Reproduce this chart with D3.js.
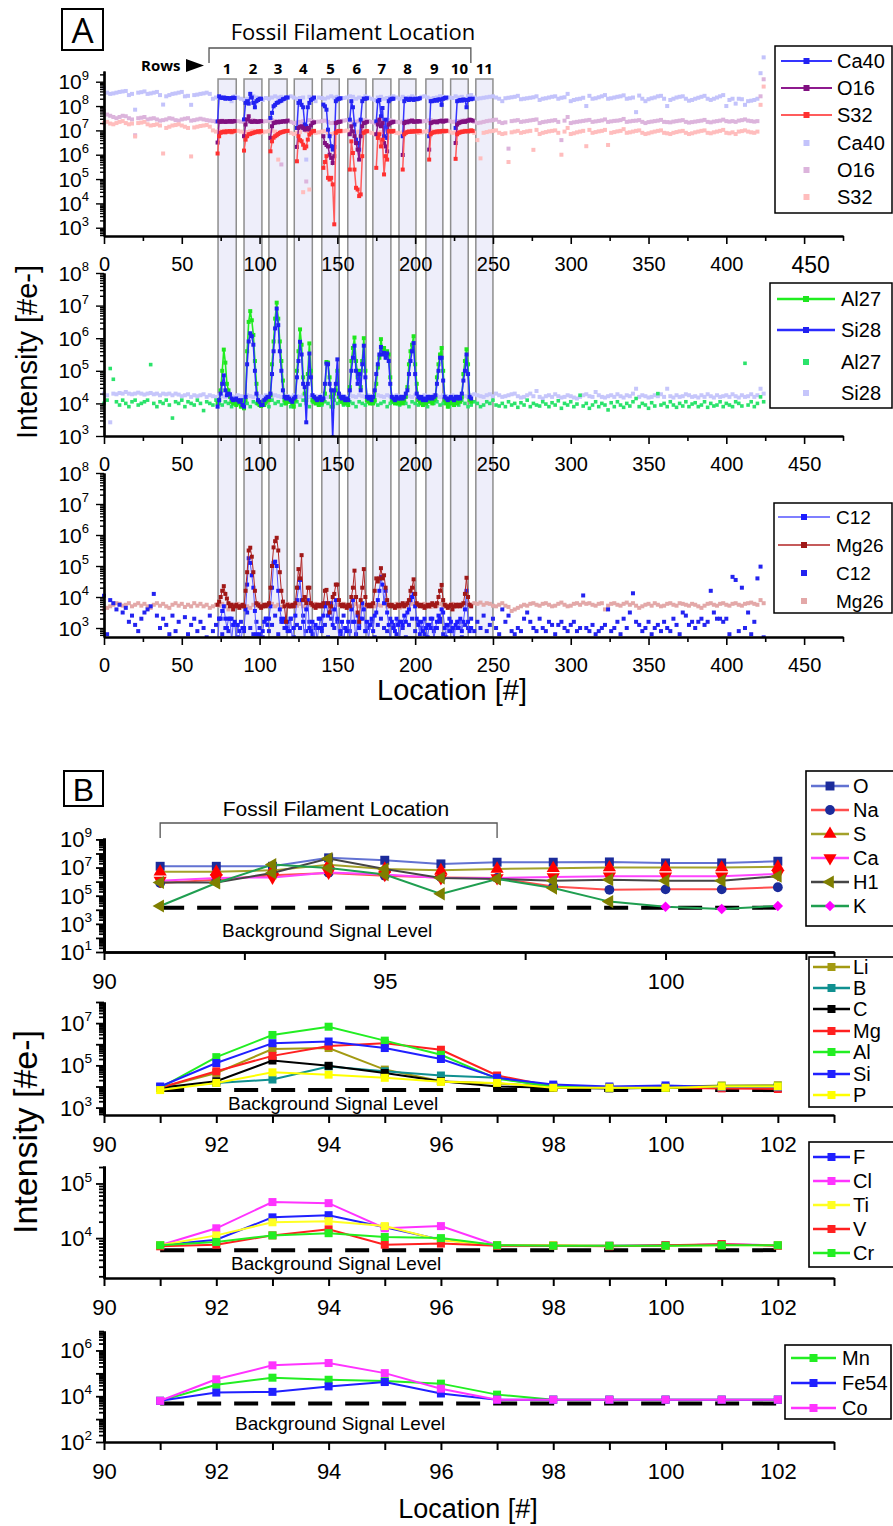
<!DOCTYPE html>
<html>
<head>
<meta charset="utf-8">
<script src="https://cdn.jsdelivr.net/npm/d3@7/dist/d3.min.js"></script>
<style>
body { margin: 0; background: #fff; }
</style>
</head>
<body>
<script>
// ---------- Panel A (all values are log10 of intensity) ----------
var rowLabels = ["1", "2", "3", "4", "5", "6", "7", "8", "9", "10", "11"]
var rowBands = [[73.3, 85], [90, 101.5], [106, 117.7], [122.3, 133.9], [140, 151.2], [156.7, 168.4],
  [172.8, 184.4], [189.6, 200.5], [206.9, 217.8], [222.8, 234.1], [239, 250]]
var rowStart = [73, 90, 107, 124, 141, 158, 175, 192, 209, 226]

var ca40Rows = [
  [7.37, 8.4, 8.35, 8.33, 8.35, 8.3, 8.33, 8.32, 8.3, 8.33, 8.35, 8.33],
  [7.45, 8.13, 8.2, 8.1, 8.5, 8.35, 8.13, 7.95, 8.2, 8.25, 8.3, 8.3],
  [7.51, 7.72, 7.99, 8.05, 8.13, 8.15, 8.2, 8.22, 8.28, 8.3, 8.35, 8.35],
  [7.1, 8.13, 8.2, 8.05, 7.95, 7.24, 7.17, 7.95, 8.13, 8.25, 8.3, 8.35],
  [8.06, 7.99, 7.85, 7.03, 6.76, 6.35, 6.21, 6.32, 8.2, 8.27, 8.3, 8.32],
  [7.44, 8.2, 7.95, 7.24, 6.62, 6.48, 6.21, 7.44, 8.2, 8.3, 8.3, 8.32],
  [7.37, 8.2, 8.25, 7.58, 7.92, 6.76, 7.44, 6.69, 8.2, 8.27, 8.3, 8.3],
  [6.76, 8.2, 8.3, 8.28, 8.25, 8.3, 8.28, 8.25, 8.3, 8.28, 8.3, 8.32],
  [6.76, 8.2, 8.2, 8.22, 8.25, 8.22, 8.27, 8.27, 8.05, 8.3, 8.33, 8.35],
  [7.1, 8.2, 8.22, 8.25, 8.22, 8.27, 8.25, 7.95, 8.25, 8.3, 8.28, 8.3]
]
var o16Rows = [
  [6.5, 7.37, 7.35, 7.38, 7.36, 7.35, 7.37, 7.36, 7.38, 7.36, 7.37, 7.38],
  [6.76, 7.24, 7.45, 7.58, 7.37, 7.35, 7.36, 7.38, 7.35, 7.36, 7.37, 7.38],
  [6.69, 7.17, 7.3, 7.32, 7.35, 7.33, 7.36, 7.35, 7.37, 7.38, 7.36, 7.4],
  [6.32, 7.1, 7.15, 7.17, 7.1, 7.03, 7.05, 7.1, 7.03, 7.2, 7.3, 7.33],
  [6.76, 6.48, 6.4, 6.34, 6.0, 5.87, 5.66, 5.94, 7.3, 7.33, 7.35, 7.36],
  [6.84, 7.17, 6.96, 6.76, 6.48, 6.21, 5.8, 6.76, 7.17, 7.3, 7.32, 7.35],
  [6.84, 7.24, 7.44, 7.17, 7.3, 6.48, 6.34, 6.14, 7.24, 7.3, 7.33, 7.35],
  [5.99, 7.3, 7.35, 7.33, 7.36, 7.38, 7.4, 7.35, 7.37, 7.36, 7.38, 7.37],
  [6.21, 7.3, 7.33, 7.35, 7.36, 7.33, 7.37, 7.38, 7.4, 7.36, 7.38, 7.4],
  [6.48, 7.24, 7.3, 7.33, 7.35, 7.37, 7.35, 7.38, 7.4, 7.44, 7.42, 7.4]
]
var s32Rows = [
  [6.05, 6.76, 6.9, 6.93, 6.95, 6.92, 6.96, 6.95, 6.97, 6.94, 6.96, 6.98],
  [6.17, 6.62, 6.76, 6.84, 6.85, 6.88, 6.9, 6.92, 6.94, 6.96, 6.95, 6.97],
  [6.14, 6.55, 6.7, 6.76, 6.8, 6.85, 6.9, 6.92, 6.94, 6.96, 6.97, 6.98],
  [5.73, 6.76, 6.6, 6.55, 6.41, 6.27, 6.34, 6.62, 6.83, 6.9, 6.96, 6.98],
  [5.46, 5.7, 5.94, 5.05, 4.98, 5.05, 4.78, 3.14, 6.9, 6.96, 6.97, 6.98],
  [5.39, 6.55, 6.07, 5.39, 4.64, 4.57, 4.3, 4.37, 5.94, 6.9, 6.95, 6.97],
  [5.46, 6.69, 6.84, 6.34, 6.62, 5.19, 5.94, 5.8, 6.96, 6.97, 6.95, 6.98],
  [5.39, 6.84, 6.9, 6.93, 6.95, 6.94, 6.96, 6.95, 6.97, 6.96, 6.98, 6.97],
  [5.8, 6.84, 6.9, 6.92, 6.94, 6.95, 6.96, 6.95, 6.97, 6.98, 6.96, 6.98],
  [5.83, 6.84, 6.9, 6.92, 6.94, 6.95, 6.96, 6.97, 6.96, 6.98, 7.0, 6.98]
]

// background scans, every 2nd location 0..424
var fadeLoc = d3.range(0, 425, 2)
var ca40Fade = [
  8.75, 8.55, 8.5, 8.52, 8.55, 8.58, 8.6, 8.62, 8.45, 8.5,
  7.85, 8.55, 8.57, 8.6, 8.5, 8.52, 8.55, 8.58, 8.45, 8.06,
  8.4, 8.45, 8.5, 8.52, 8.55, 8.58, 8.4, 8.42, 8.05, 8.45,
  8.47, 8.5, 8.52, 8.55, 8.5, 8.3, 8.35, 8.35, 8.33, 8.35,
  8.3, 8.2, 8.4, 8.35, 8.3, 8.25, 8.3, 8.38, 8.4, 8.35,
  8.3, 8.25, 8.33, 8.3, 8.35, 8.4, 8.35, 8.38, 8.3, 8.35,
  8.4, 8.35, 8.3, 8.33, 8.35, 5.8, 8.38, 8.3, 8.2, 8.35,
  8.33, 8.3, 8.35, 8.4, 8.35, 8.38, 8.3, 8.33, 8.35, 8.4,
  8.38, 8.3, 8.35, 8.33, 8.4, 8.35, 8.3, 8.25, 8.35, 8.38,
  8.3, 8.33, 8.35, 8.4, 8.35, 8.3, 8.38, 8.33, 8.35, 8.4,
  8.35, 8.3, 8.38, 8.4, 8.35, 8.3, 8.33, 8.35, 8.4, 8.38,
  8.3, 8.35, 8.33, 8.4, 8.35, 8.38, 8.3, 8.4, 8.45, 8.35,
  8.3, 8.32, 8.34, 8.36, 8.38, 8.4, 8.35, 8.3, 8.2, 8.32,
  8.34, 8.36, 8.38, 8.42, 8.28, 8.3, 8.32, 8.34, 8.36, 8.4,
  8.25, 8.3, 8.32, 8.35, 8.38, 8.4, 8.3, 8.34, 8.36, 8.5,
  8.2, 8.25, 8.28, 8.3, 8.34, 8.0, 8.42, 8.3, 8.32, 8.36,
  8.4, 8.45, 8.3, 8.32, 8.35, 8.38, 8.4, 8.44, 8.3, 8.32,
  8.35, 7.75, 8.43, 8.3, 8.2, 8.28, 8.32, 8.35, 8.4, 8.42,
  8.3, 8.0, 8.25, 8.3, 8.35, 8.38, 8.4, 8.3, 8.22, 8.25,
  8.3, 8.34, 8.38, 8.42, 8.3, 8.25, 8.3, 8.35, 8.4, 8.45,
  8.0, 8.25, 8.3, 8.1, 8.3, 8.28, 8.05, 8.2, 8.22, 8.25,
  8.3, 9.35, 10.0
]
var o16Fade = [
  7.8, 7.65, 7.6, 7.55, 7.5, 7.55, 7.6, 7.58, 7.5, 7.45,
  6.8, 7.5, 7.52, 7.55, 7.45, 7.48, 7.5, 7.45, 7.4, 7.42,
  7.45, 7.5, 7.48, 7.42, 7.4, 7.45, 7.48, 7.5, 7.4, 7.42,
  7.45, 7.48, 7.45, 7.42, 7.4, 7.38, 7.36, 7.38, 7.4, 7.37,
  7.38, 7.35, 7.4, 7.38, 7.36, 7.35, 7.38, 7.4, 7.42, 7.38,
  7.35, 7.36, 7.38, 7.4, 7.42, 7.38, 7.35, 5.6, 7.38, 7.4,
  7.35, 7.3, 7.32, 7.35, 7.38, 4.9, 7.42, 7.38, 7.35, 7.36,
  7.38, 7.4, 7.35, 7.3, 7.32, 7.35, 7.38, 7.4, 7.42, 7.38,
  7.35, 7.36, 7.38, 7.4, 7.42, 7.38, 7.35, 7.3, 7.33, 7.36,
  7.38, 7.4, 7.42, 7.38, 7.35, 7.33, 7.36, 7.38, 7.4, 7.42,
  7.38, 7.35, 7.36, 7.38, 7.4, 7.42, 7.38, 7.35, 7.36, 7.4,
  7.42, 7.38, 7.35, 7.36, 7.38, 7.4, 7.42, 7.4, 7.38, 7.35,
  7.3, 7.32, 7.35, 7.38, 7.4, 7.42, 7.44, 7.35, 7.3, 7.33,
  6.25, 7.38, 7.4, 7.42, 7.35, 7.37, 7.39, 7.41, 7.43, 7.45,
  7.3, 7.34, 7.36, 7.38, 7.4, 7.42, 7.35, 6.6, 7.4, 7.55,
  7.3, 7.33, 7.35, 7.37, 7.39, 7.41, 7.43, 7.35, 7.37, 7.39,
  7.41, 7.45, 7.35, 7.37, 7.39, 7.4, 7.42, 7.47, 7.35, 7.37,
  7.39, 7.4, 7.42, 7.35, 7.3, 7.34, 7.36, 7.38, 7.4, 7.43,
  7.35, 7.34, 7.33, 7.36, 7.38, 7.4, 7.42, 7.35, 7.32, 7.34,
  7.36, 7.38, 7.4, 7.43, 7.35, 7.33, 7.36, 7.38, 7.4, 7.44,
  7.38, 7.36, 7.38, 7.35, 7.4, 7.42, 7.45, 7.4, 7.38, 7.36,
  7.38, 8.4, 9.1
]
var s32Fade = [
  7.3, 7.35, 7.28, 7.25, 7.3, 7.35, 7.38, 7.3, 7.25, 7.28,
  6.75, 7.3, 7.32, 7.35, 7.25, 7.2, 7.22, 7.25, 7.2, 6.05,
  7.1, 7.15, 7.2, 7.22, 7.25, 7.2, 7.15, 7.1, 5.93, 7.12,
  7.15, 7.18, 7.2, 7.22, 7.15, 7.0, 6.95, 6.97, 6.95, 6.98,
  6.95, 6.9, 6.96, 6.98, 6.95, 6.9, 6.93, 6.96, 6.98, 6.95,
  6.9, 6.92, 6.95, 6.97, 6.99, 6.95, 5.8, 6.93, 6.96, 6.98,
  6.9, 6.85, 6.9, 6.93, 4.46, 6.97, 4.57, 6.95, 6.9, 6.92,
  6.95, 6.97, 6.9, 6.85, 6.88, 6.92, 6.95, 6.97, 6.99, 6.95,
  6.9, 6.92, 6.95, 6.97, 6.99, 6.95, 6.9, 6.85, 6.9, 6.93,
  6.95, 6.97, 6.99, 6.95, 6.9, 6.88, 6.92, 6.95, 6.97, 6.99,
  6.95, 6.9, 6.92, 6.95, 6.97, 6.99, 6.95, 6.9, 6.92, 6.96,
  6.98, 6.95, 6.9, 6.92, 6.95, 6.97, 6.99, 6.97, 6.95, 6.9,
  6.6, 5.85, 6.9, 6.93, 6.96, 6.98, 7.0, 6.9, 6.85, 6.88,
  5.7, 6.92, 6.95, 6.98, 6.9, 6.93, 6.96, 6.98, 6.2, 7.02,
  6.85, 6.9, 6.93, 6.96, 6.98, 7.0, 6.9, 6.0, 6.95, 7.1,
  6.85, 6.88, 6.92, 6.95, 6.98, 6.35, 7.02, 6.9, 6.93, 6.96,
  6.98, 7.02, 6.4, 6.9, 6.93, 6.96, 6.98, 7.05, 6.9, 6.92,
  6.95, 6.98, 7.0, 6.9, 6.85, 6.88, 6.92, 6.95, 6.98, 7.0,
  6.9, 6.88, 6.85, 6.9, 6.93, 6.96, 6.98, 6.9, 6.85, 6.88,
  6.92, 6.95, 6.98, 7.0, 6.9, 6.88, 6.92, 6.95, 6.98, 7.02,
  6.9, 6.88, 6.92, 6.85, 6.95, 6.97, 7.0, 6.95, 6.92, 6.9,
  6.95, 8.05, 8.8
]
var al27Fade = [
  4.0, 4.1, 5.07, 4.74, 4.05, 3.95, 4.1, 4.0, 3.9, 4.05,
  4.1, 3.95, 4.0, 4.05, 4.1, 5.19, 4.0, 3.9, 4.05, 4.0,
  4.1, 3.95, 3.55, 4.05, 4.0, 4.1, 3.9, 4.05, 4.0, 3.95,
  4.1, 4.0, 3.78, 4.05, 4.0, 3.95, 4.1, 4.0, 3.95, 4.05,
  4.0, 3.9, 4.05, 4.0, 3.95, 4.1, 4.0, 3.9, 4.05, 4.0,
  3.95, 4.05, 4.0, 3.9, 4.1, 4.0, 4.05, 3.95, 4.0, 4.05,
  3.9, 4.0, 4.05, 3.95, 4.1, 4.0, 3.9, 4.05, 4.0, 4.1,
  3.95, 4.05, 4.0, 3.9, 4.1, 4.0, 4.05, 3.95, 4.0, 4.05,
  4.0, 3.9, 4.05, 4.0, 3.95, 4.1, 4.0, 4.05, 3.95, 4.0,
  4.05, 3.9, 4.0, 4.05, 4.0, 3.95, 4.1, 4.0, 3.9, 4.05,
  4.0, 3.95, 4.05, 4.0, 3.9, 4.1, 4.0, 4.05, 3.95, 4.0,
  4.05, 3.9, 4.0, 4.05, 3.95, 4.1, 4.0, 3.9, 3.95, 4.05,
  4.0, 3.9, 3.95, 4.05, 4.0, 4.1, 3.95, 3.92, 4.0, 3.9,
  4.05, 3.95, 4.0, 3.88, 4.02, 3.95, 4.1, 3.9, 4.0, 3.95,
  3.92, 4.05, 3.98, 3.9, 4.02, 3.95, 4.08, 3.85, 4.0, 3.95,
  4.05, 3.9, 3.98, 4.25, 3.92, 4.0, 3.85, 3.95, 4.05, 3.9,
  4.0, 3.95, 3.8, 4.02, 3.9, 4.05, 3.95, 3.88, 4.0, 3.92,
  4.05, 4.15, 3.9, 4.0, 3.95, 3.85, 4.02, 3.92, 4.3, 3.95,
  4.0, 3.9, 4.05, 3.95, 3.88, 4.0, 3.92, 4.05, 3.9, 3.98,
  4.02, 3.9, 3.95, 4.05, 3.88, 4.0, 3.92, 3.95, 4.05, 3.9,
  4.0, 3.95, 3.9, 4.05, 4.0, 3.92, 5.23, 3.95, 4.05, 3.9,
  4.0, 4.2, 4.05
]
var si28Fade = [
  4.3, 4.25, 3.42, 4.3, 4.28, 4.32, 4.3, 4.35, 4.3, 4.28,
  4.3, 4.33, 4.3, 4.27, 4.3, 4.32, 4.28, 4.3, 4.25, 4.3,
  4.28, 4.3, 4.25, 4.3, 4.27, 4.22, 4.25, 4.28, 4.2, 4.25,
  4.22, 4.25, 4.28, 4.2, 4.25, 4.22, 4.2, 4.25, 4.22, 4.2,
  4.25, 4.22, 4.2, 4.25, 4.22, 4.2, 4.25, 4.22, 4.2, 4.25,
  4.22, 4.2, 4.25, 4.22, 4.2, 4.25, 4.22, 4.2, 4.25, 4.22,
  4.2, 4.25, 4.22, 4.2, 4.25, 4.22, 4.2, 4.25, 4.22, 4.2,
  4.25, 4.22, 4.2, 4.25, 4.22, 4.2, 4.25, 4.22, 4.2, 4.25,
  4.22, 4.2, 4.25, 4.22, 4.2, 4.25, 4.22, 4.2, 4.25, 4.22,
  4.2, 4.25, 4.22, 4.2, 4.25, 4.22, 4.2, 4.25, 4.22, 4.2,
  4.25, 4.22, 4.2, 4.25, 4.22, 4.2, 4.25, 4.22, 4.2, 4.25,
  4.22, 4.2, 4.25, 4.22, 4.2, 4.25, 4.22, 4.2, 4.25, 4.28,
  4.25, 4.22, 4.2, 4.25, 4.28, 4.22, 4.3, 4.25, 4.2, 4.22,
  4.25, 4.28, 4.3, 4.22, 4.18, 4.2, 4.25, 4.3, 4.22, 4.38,
  4.2, 4.15, 4.22, 4.25, 4.2, 4.28, 4.22, 4.18, 4.2, 4.25,
  4.22, 4.18, 4.15, 4.2, 4.25, 4.28, 4.22, 4.2, 4.35, 4.25,
  4.2, 4.18, 4.22, 4.25, 4.2, 4.28, 4.22, 4.18, 4.25, 4.22,
  4.3, 4.45, 4.2, 4.25, 4.22, 4.18, 4.2, 4.25, 4.22, 4.28,
  4.2, 4.45, 4.22, 4.18, 4.25, 4.2, 4.22, 4.28, 4.25, 4.2,
  4.22, 4.18, 4.25, 4.2, 4.28, 4.22, 4.18, 4.25, 4.2, 4.22,
  4.25, 4.2, 4.28, 4.22, 4.18, 4.25, 4.2, 4.22, 4.28, 4.2,
  4.25, 4.45, 4.3
]
var c12Fade = [
  4.04, 2.8, 3.9, 3.8, 3.6, 3.75, 3.5, 3.65, 3.2, 3.4,
  3.1, 2.9, 3.3, 3.5, 3.6, 3.7, 4.1, 3.4, 3.0, 3.3,
  3.1, 2.8, 3.4, 2.9, 3.2, 2.6, 3.35, 2.8, 3.1, 3.3,
  2.9, 3.2, 3.0, 2.7, 3.4, 2.9, 3.1, 3.3, 2.8, 3.0,
  2.9, 3.3, 3.1, 2.7, 3.2, 2.9, 3.5, 3.0, 2.8, 3.2,
  3.0, 2.7, 3.3, 2.9, 3.1, 3.4, 2.8, 3.2, 3.0, 2.9,
  3.3, 2.7, 3.1, 3.0, 3.4, 2.9, 3.2, 2.8, 3.0, 3.3,
  2.9, 3.1, 2.7, 3.3, 3.0, 3.2, 2.8, 3.4, 3.0, 2.9,
  3.2, 2.8, 3.1, 3.3, 2.9, 3.0, 3.2, 2.7, 3.1, 3.3,
  3.0, 2.9, 3.3, 3.1, 2.8, 3.2, 3.0, 2.7, 3.1, 3.3,
  2.9, 3.2, 3.0, 2.8, 3.1, 3.3, 2.9, 3.0, 3.2, 2.8,
  3.1, 3.3, 2.9, 3.0, 3.2, 2.7, 3.1, 3.0, 3.3, 2.9,
  3.2, 3.0, 3.4, 2.9, 3.1, 3.3, 3.0, 2.8, 3.6, 3.2,
  3.4, 2.9, 2.8, 3.0, 2.9, 3.3, 3.5, 3.2, 3.0, 2.9,
  3.3, 3.0, 2.9, 3.2, 3.1, 2.8, 3.1, 3.2, 3.0, 2.9,
  3.1, 3.2, 2.9, 3.0, 4.05, 3.0, 2.9, 3.1, 2.8, 2.9,
  3.0, 3.1, 3.6, 2.9, 3.0, 3.2, 2.8, 3.3, 3.0, 3.5,
  4.12, 3.2, 3.1, 2.9, 3.0, 3.2, 2.8, 3.0, 3.1, 2.9,
  3.2, 3.0, 2.9, 3.3, 3.1, 2.8, 3.5, 3.4, 3.1, 3.2,
  3.0, 3.2, 3.3, 3.1, 3.2, 4.2, 3.5, 3.3, 3.3, 3.2,
  3.3, 2.8, 4.65, 4.55, 2.9, 4.3, 3.0, 3.5, 2.8, 3.2,
  4.6, 4.98, 2.7
]
var mg26Fade = [
  3.6, 3.65, 3.7, 3.75, 3.8, 3.78, 3.72, 3.75, 3.8, 3.7,
  3.75, 3.8, 3.72, 3.78, 3.7, 3.65, 3.75, 3.8, 3.72, 3.78,
  3.7, 3.65, 3.75, 3.8, 3.72, 3.78, 3.68, 3.75, 3.7, 3.8,
  3.72, 3.78, 3.7, 3.75, 3.65, 3.7, 3.75, 3.72, 3.78, 3.7,
  3.6, 3.75, 3.7, 3.78, 3.72, 3.75, 3.7, 3.65, 3.75, 3.72,
  3.78, 3.7, 3.75, 3.72, 3.78, 3.7, 3.75, 3.68, 3.72, 3.78,
  3.7, 3.75, 3.72, 3.78, 3.7, 3.65, 3.75, 3.72, 3.78, 3.7,
  3.75, 3.72, 3.78, 3.7, 3.6, 3.75, 3.72, 3.78, 3.7, 3.75,
  3.72, 3.78, 3.7, 3.75, 3.68, 3.72, 3.78, 3.7, 3.75, 3.72,
  3.78, 3.7, 3.75, 3.72, 3.78, 3.65, 3.7, 3.75, 3.72, 3.78,
  3.7, 3.75, 3.72, 3.78, 3.7, 3.68, 3.75, 3.72, 3.78, 3.7,
  3.75, 3.72, 3.78, 3.7, 3.75, 3.72, 3.8, 3.78, 3.75, 3.8,
  3.78, 3.82, 3.75, 3.8, 3.78, 3.72, 3.7, 3.75, 3.8, 3.72,
  3.68, 3.55, 3.6, 3.65, 3.7, 3.75, 3.72, 3.78, 3.8, 3.75,
  3.72, 3.78, 3.8, 3.75, 3.7, 3.72, 3.78, 3.82, 3.75, 3.7,
  3.72, 3.78, 3.8, 3.75, 3.82, 3.78, 3.8, 3.75, 3.72, 3.78,
  3.8, 3.6, 3.72, 3.78, 3.8, 3.75, 3.72, 3.78, 3.82, 3.75,
  3.8, 3.72, 3.65, 3.7, 3.75, 3.78, 3.72, 3.8, 3.75, 3.7,
  3.72, 3.78, 3.8, 3.75, 3.72, 3.8, 3.78, 3.75, 3.72, 3.78,
  3.75, 3.7, 3.65, 3.72, 3.78, 3.8, 3.75, 3.72, 3.78, 3.8,
  3.75, 3.72, 3.78, 3.8, 3.75, 3.72, 3.78, 3.8, 3.82, 3.78,
  3.75, 3.9, 3.8
]

// filament scans, every location 73..236
var lineLoc = d3.range(73, 237)
var si28Line = [
  3.9, 4.1, 4.3, 4.6, 4.86, 4.4, 4.25, 4.3, 4.28, 4.15,
  4.1, 4.12, 4.15, 4.1, 4.05, 4.1, 3.95, 3.9, 4.2, 5.2,
  5.9, 6.15, 6.06, 5.8, 5.0, 4.3, 4.1, 4.05, 3.95, 3.95,
  4.1, 4.15, 4.2, 4.2, 4.3, 4.9, 5.6, 6.3, 6.91, 6.4,
  5.6, 5.0, 4.4, 4.2, 4.15, 4.2, 4.15, 4.1, 4.05, 4.15,
  4.2, 4.8, 5.3, 5.89, 5.5, 4.6, 4.5, 3.42, 4.6, 5.53,
  4.8, 4.25, 4.2, 4.15, 4.1, 4.15, 4.2, 4.1, 4.15, 4.6,
  5.22, 5.2, 4.6, 4.4, 2.96, 4.4, 4.6, 5.35, 4.3, 4.2,
  4.15, 4.2, 4.1, 4.15, 4.1, 4.4, 5.0, 5.4, 5.77, 5.0,
  4.6, 4.9, 4.4, 5.2, 5.77, 4.8, 4.2, 4.15, 4.2, 4.1,
  4.2, 4.4, 4.9, 5.2, 5.5, 5.73, 5.5, 5.55, 5.4, 5.53,
  5.3, 4.6, 4.2, 4.15, 4.1, 4.2, 4.15, 4.15, 4.2, 4.15,
  4.2, 4.3, 4.4, 4.9, 5.3, 5.6, 5.85, 4.9, 4.3, 4.2,
  4.15, 4.2, 4.1, 4.15, 4.1, 4.2, 4.15, 4.2, 4.15, 4.2,
  4.25, 4.6, 5.0, 5.4, 5.4, 4.7, 4.2, 4.15, 4.1, 4.15,
  4.2, 4.15, 4.1, 4.2, 4.15, 4.2, 4.15, 4.3, 4.7, 5.0,
  5.5, 4.9, 4.2, 4.15
]
var al27Line = [
  4.0, 4.1, 4.4, 5.0, 5.65, 5.25, 4.6, 4.4, 4.2, 4.05,
  4.0, 4.0, 3.95, 4.0, 4.02, 3.9, 4.0, 3.85, 4.1, 5.6,
  6.5, 6.83, 6.55, 6.1, 5.3, 4.6, 4.0, 3.95, 3.92, 4.0,
  3.95, 4.05, 4.1, 4.1, 4.25, 5.2, 5.9, 6.6, 7.09, 6.6,
  5.9, 5.3, 4.7, 4.1, 4.0, 4.05, 4.1, 4.05, 4.0, 3.9,
  4.1, 5.0, 5.6, 6.27, 5.8, 4.8, 4.3, 4.1, 4.9, 5.84,
  5.0, 4.1, 4.05, 4.0, 4.05, 3.95, 4.05, 4.0, 4.1, 4.3,
  5.27, 5.25, 4.8, 4.2, 3.9, 4.3, 4.4, 5.0, 4.2, 4.1,
  4.05, 4.0, 4.05, 4.0, 3.95, 4.5, 5.3, 5.7, 6.02, 5.3,
  4.8, 5.0, 4.5, 5.3, 6.0, 5.0, 4.1, 4.05, 4.0, 4.05,
  4.0, 4.1, 4.6, 5.1, 5.4, 5.97, 5.65, 5.7, 5.5, 5.6,
  5.5, 4.8, 4.1, 4.05, 4.0, 4.05, 4.0, 4.0, 4.05, 4.0,
  4.1, 4.2, 4.5, 5.2, 5.6, 5.8, 6.06, 5.2, 4.6, 4.1,
  4.05, 4.0, 3.95, 4.05, 4.0, 4.1, 4.05, 4.1, 4.0, 4.1,
  4.15, 4.8, 5.2, 5.5, 5.7, 5.0, 4.1, 4.0, 3.9, 4.05,
  4.0, 4.1, 3.95, 4.05, 4.0, 4.1, 4.05, 4.2, 4.9, 5.3,
  5.66, 5.2, 4.1, 4.05
]
var c12Line = [
  2.5, 3.3, 3.3, 3.55, 3.7, 3.3, 3.0, 3.3, 3.3, 2.6,
  3.1, 3.2, 2.6, 3.1, 2.9, 2.5, 3.0, 3.0, 3.6, 4.4,
  5.25, 5.1, 4.7, 4.3, 3.55, 2.8, 2.6, 2.8, 2.5, 2.9,
  3.2, 3.3, 3.1, 3.3, 3.7, 4.3, 5.1, 5.14, 5.0, 4.2,
  3.6, 3.3, 3.2, 3.3, 3.0, 3.2, 2.9, 3.3, 2.6, 3.0,
  3.4, 3.9, 4.3, 4.55, 3.9, 3.2, 2.5, 3.6, 3.9, 3.0,
  2.9, 3.2, 2.5, 3.1, 2.6, 3.0, 3.3, 3.0, 3.4, 3.7,
  3.8, 3.4, 3.5, 3.8, 3.1, 3.6, 3.9, 3.3, 2.6, 2.9,
  3.2, 2.5, 3.0, 2.9, 3.2, 2.6, 3.6, 3.9, 3.2, 2.5,
  3.4, 3.0, 3.3, 3.8, 3.6, 2.9, 3.2, 2.6, 3.1, 3.3,
  2.9, 3.4, 3.5, 3.9, 4.2, 4.65, 4.4, 3.8, 4.2, 3.5,
  3.1, 2.6, 3.2, 3.0, 2.9, 3.3, 3.1, 2.6, 3.2, 3.1,
  3.4, 3.2, 3.5, 3.6, 3.9, 4.0, 4.1, 3.7, 3.3, 3.1,
  2.8, 3.2, 2.9, 3.3, 3.0, 2.7, 3.1, 3.0, 3.3, 2.6,
  3.0, 3.2, 3.4, 3.3, 3.6, 3.5, 3.0, 2.7, 3.1, 2.9,
  3.2, 3.0, 2.6, 3.1, 3.2, 3.0, 3.3, 2.9, 3.2, 3.6,
  4.2, 3.2, 2.9, 3.0
]
var mg26Line = [
  3.75, 3.85, 4.0, 4.2, 4.35, 4.1, 3.95, 3.8, 3.7, 3.75,
  3.6, 3.7, 3.75, 3.7, 3.65, 3.7, 3.75, 3.7, 4.2, 4.8,
  5.5, 5.59, 5.3, 4.8, 4.2, 3.8, 3.75, 3.7, 3.65, 3.7,
  3.75, 3.7, 3.75, 3.8, 4.3, 5.0, 5.6, 5.8, 5.91, 5.5,
  4.8, 4.2, 3.85, 3.7, 3.2, 3.75, 3.7, 3.7, 3.75, 3.7,
  3.8, 4.3, 4.9, 4.6, 5.35, 3.9, 4.0, 3.8, 4.3, 4.3,
  3.8, 3.75, 3.7, 3.65, 3.75, 3.7, 3.75, 3.7, 3.8, 4.2,
  4.23, 3.8, 3.5, 3.7, 4.0, 4.1, 4.4, 4.4, 3.9, 3.75,
  3.7, 3.75, 3.7, 3.65, 3.75, 3.7, 4.0, 4.3, 4.85, 4.0,
  3.5, 3.2, 3.9, 4.3, 4.9, 4.0, 3.75, 3.7, 3.75, 3.7,
  3.8, 4.2, 4.6, 4.5, 4.6, 4.93, 4.6, 4.7, 4.3, 3.9,
  3.75, 3.7, 3.75, 3.7, 3.65, 3.7, 3.75, 3.7, 3.75, 3.8,
  3.7, 3.75, 3.8, 3.9, 4.2, 4.3, 4.57, 4.1, 3.8, 3.75,
  3.7, 3.75, 3.7, 3.65, 3.7, 3.75, 3.7, 3.75, 3.8, 3.75,
  3.7, 3.8, 4.0, 4.2, 4.39, 3.9, 3.75, 3.7, 3.65, 3.7,
  3.75, 3.6, 3.7, 3.75, 3.7, 3.75, 3.7, 3.75, 3.8, 4.1,
  4.62, 4.0, 3.75, 3.7
]

// ---------- Panel B (log10 of intensity at locations 91..102) ----------
var locB = d3.range(91, 103)
var bgB = [4.15, 3.83, 3.78, 3.68]
var b1Names = ["O", "Na", "S", "Ca", "H1", "K"]
var b1Vals = [
  [7.09, 7.09, 7.09, 7.69, 7.52, 7.26, 7.38, 7.38, 7.4, 7.33, 7.33, 7.45],
  [5.9, 6.14, 6.45, 6.62, 6.42, 6.3, 6.26, 5.65, 5.42, 5.45, 5.45, 5.6],
  [6.7, 6.7, 6.8, 7.2, 6.9, 6.8, 6.9, 6.95, 7.0, 7.0, 7.0, 7.05],
  [6.07, 6.26, 6.3, 6.65, 6.5, 6.26, 6.26, 6.33, 6.38, 6.38, 6.38, 6.55],
  [5.94, 5.94, 6.62, 7.64, 6.9, 6.26, 6.19, 6.07, 6.14, 6.07, 6.07, 6.38],
  [4.27, 5.9, 7.21, 6.97, 6.5, 5.13, 6.19, 5.54, 4.58, 4.22, 4.06, 4.27]
]
var b2Names = ["Li", "B", "C", "Mg", "Al", "Si", "P"]
var b2Vals = [
  [3.94, 4.64, 5.77, 5.82, 4.8, 4.25, 4.14, 4.0, 3.94, 3.97, 4.05, 4.06],
  [3.94, 4.17, 4.33, 4.95, 4.72, 4.52, 4.41, 3.97, 3.94, 3.94, 3.94, 3.97],
  [3.94, 4.25, 5.23, 4.98, 4.64, 4.25, 4.0, 3.94, 3.91, 3.94, 3.94, 3.94],
  [3.94, 4.72, 5.45, 5.92, 6.05, 5.74, 4.52, 4.0, 3.94, 3.94, 3.91, 3.88],
  [3.94, 5.39, 6.44, 6.83, 6.17, 5.5, 4.36, 4.01, 3.94, 3.94, 4.0, 4.0],
  [4.0, 5.11, 6.05, 6.13, 5.82, 5.3, 4.41, 4.09, 4.0, 4.05, 3.97, 3.97],
  [3.83, 4.17, 4.67, 4.56, 4.41, 4.22, 4.17, 3.94, 3.94, 3.94, 4.0, 4.0]
]
var b3Names = ["F", "Cl", "Ti", "V", "Cr"]
var b3Vals = [
  [3.87, 3.97, 4.38, 4.42, 4.2, 3.97, 3.87, 3.86, 3.86, 3.87, 3.88, 3.87],
  [3.87, 4.18, 4.66, 4.64, 4.18, 4.22, 3.87, 3.86, 3.86, 3.86, 3.89, 3.87],
  [3.87, 4.05, 4.29, 4.31, 4.22, 3.96, 3.87, 3.87, 3.86, 3.86, 3.87, 3.87],
  [3.85, 3.88, 4.05, 4.16, 3.88, 3.9, 3.86, 3.86, 3.85, 3.87, 3.89, 3.86],
  [3.87, 3.93, 4.05, 4.09, 4.02, 4.0, 3.87, 3.86, 3.86, 3.86, 3.87, 3.87]
]
var b4Names = ["Mn", "Fe54", "Co"]
var b4Vals = [
  [3.8, 4.5, 4.81, 4.72, 4.66, 4.55, 4.07, 3.85, 3.85, 3.85, 3.85, 3.85],
  [3.8, 4.16, 4.19, 4.43, 4.62, 4.12, 3.85, 3.85, 3.85, 3.85, 3.85, 3.85],
  [3.8, 4.74, 5.35, 5.45, 5.01, 4.33, 3.85, 3.85, 3.85, 3.85, 3.85, 3.85]
]

var FONT = "'Liberation Sans', Arial, sans-serif"
var svg = d3.select("body").append("svg")
    .attr("width", 893)
    .attr("height", 1526)
    .style("font-family", FONT)

function P(v) { return Math.pow(10, v) }

var xA = d3.scaleLinear().domain([0, 475]).range([104, 843])
var yA1 = d3.scaleLog().domain([P(2.66), P(9.44)]).range([236, 71])
var yA2 = d3.scaleLog().domain([P(3), P(8)]).range([436, 273])
var yA3 = d3.scaleLog().domain([P(2.71), P(8)]).range([637, 473])

var xB = d3.scaleLinear().domain([90, 103]).range([104, 834])
var yB1 = d3.scaleLog().domain([P(1), P(9.1)]).range([952, 838])
var yB2 = d3.scaleLog().domain([P(2.65), P(8)]).range([1115, 1002])
var yB3 = d3.scaleLog().domain([P(3.27), P(5.32)]).range([1278, 1166])
var yB4 = d3.scaleLog().domain([P(2), P(6.85)]).range([1442, 1331])

var defs = svg.append("defs")
function clip(id, y0, y1) {
  defs.append("clipPath").attr("id", id).append("rect")
    .attr("x", 100).attr("y", y0).attr("width", 793).attr("height", y1 - y0)
  return "url(#" + id + ")"
}
var cA1 = clip("cA1", 40, 236), cA2 = clip("cA2", 240, 436), cA3 = clip("cA3", 440, 637)

// ---- shared axis helpers ----
function yLogAxis(y, x0, labels, o) {
  var d = y.domain(), lo = Math.log10(d[0]), hi = Math.log10(d[1])
  var major = [], minor = []
  for (var e = Math.floor(lo); e <= Math.ceil(hi); e++) {
    for (var k = 1; k < 10; k++) {
      var lv = e + Math.log10(k)
      if (lv < lo - 1e-9 || lv > hi + 1e-9) continue
      if (k === 1) major.push(P(lv)); else minor.push(P(lv))
    }
  }
  var g = svg.append("g").attr("transform", "translate(" + x0 + ",0)")
  g.append("g").call(d3.axisLeft(y).tickValues(minor).tickSize(o.minor).tickFormat("").tickSizeOuter(0))
  g.append("g").call(d3.axisLeft(y).tickValues(major).tickSize(o.major).tickFormat("").tickSizeOuter(0))
  g.selectAll("line").attr("stroke", "#000").attr("stroke-width", o.tick)
  g.selectAll("path").attr("stroke", "#000").attr("stroke-width", o.axis)
  labels.forEach(function(e) {
    var t = g.append("text")
      .attr("x", -o.gap)
      .attr("y", y(P(e)) + o.fs * 0.36)
      .attr("text-anchor", "end")
      .attr("font-family", FONT)
      .attr("font-size", o.fs)
    t.append("tspan").text("10")
    t.append("tspan").text(e).attr("font-size", o.fs * 0.62).attr("dy", -o.fs * 0.45)
  })
}

function xAxis(x, y0, major, minor, fmt, fs, big) {
  var g = svg.append("g").attr("transform", "translate(0," + y0 + ")")
  if (minor.length) g.append("g").call(d3.axisBottom(x).tickValues(minor).tickSize(big ? 8 : 5).tickFormat("").tickSizeOuter(0))
  g.append("g").call(d3.axisBottom(x).tickValues(major).tickSize(8).tickPadding(13).tickFormat(fmt).tickSizeOuter(0))
  g.selectAll("line").attr("stroke", "#000").attr("stroke-width", big ? 2 : 1.6)
  g.selectAll("path").attr("stroke", "#000").attr("stroke-width", big ? 2.6 : 2.2)
  g.selectAll("text").attr("font-size", fs).attr("font-family", FONT).attr("fill", "#000")
  return g
}

// ================= PANEL A =================
svg.append("rect").attr("x", 62).attr("y", 9).attr("width", 41).attr("height", 41)
  .attr("fill", "none").attr("stroke", "#000").attr("stroke-width", 2)
svg.append("text").attr("x", 82.5).attr("y", 43).attr("text-anchor", "middle")
  .attr("font-family", "'Open Sans', sans-serif").attr("font-size", 35).text("A")

svg.append("text").attr("x", 353).attr("y", 40).attr("text-anchor", "middle")
  .attr("font-family", "'Open Sans', sans-serif").attr("font-size", 22).text("Fossil Filament Location")
svg.append("path").attr("d", "M" + xA(67.5) + ",63V48H" + xA(235.8) + "V63")
  .attr("fill", "none").attr("stroke", "#555").attr("stroke-width", 1.3)
svg.append("text").attr("x", 141).attr("y", 71).attr("font-family", "'Open Sans', sans-serif")
  .attr("font-weight", "bold").attr("font-size", 15).text("Rows")
svg.append("path").attr("d", "M186,59L204,65.5L186,72Z").attr("fill", "#000")

// filament row bands
svg.append("g").selectAll("rect").data(rowBands).enter().append("rect")
  .attr("x", function(d) { return xA(d[0]) })
  .attr("y", 79)
  .attr("width", function(d) { return xA(d[1]) - xA(d[0]) })
  .attr("height", 637 - 79)
  .attr("fill", "#eeeefa")
  .attr("stroke", "#8e8e8e")
  .attr("stroke-width", 1.5)
svg.append("g").selectAll("text").data(rowBands).enter().append("text")
  .attr("x", function(d) { return (xA(d[0]) + xA(d[1])) / 2 })
  .attr("y", 74)
  .attr("text-anchor", "middle")
  .attr("font-family", "'Open Sans', sans-serif")
  .attr("font-weight", "bold")
  .attr("font-size", 15)
  .text(function(d, i) { return rowLabels[i] })

function dots(y, vals, color, clipUrl, size) {
  svg.append("g").attr("clip-path", clipUrl).selectAll("rect").data(vals).enter().append("rect")
    .attr("x", function(d, i) { return xA(fadeLoc[i]) - size / 2 })
    .attr("y", function(d) { return y(P(d)) - size / 2 })
    .attr("width", size).attr("height", size)
    .attr("fill", color)
}

function trace(y, locs, vals, color, mark, width, size, clipUrl) {
  var pts = vals.map(function(v, i) { return {x: locs[i], v: v} })
  var g = svg.append("g").attr("clip-path", clipUrl)
  g.append("path").datum(pts)
    .attr("d", d3.line().x(function(d) { return xA(d.x) }).y(function(d) { return y(P(d.v)) }))
    .attr("fill", "none").attr("stroke", color).attr("stroke-width", width)
  g.selectAll("rect").data(pts).enter().append("rect")
    .attr("x", function(d) { return xA(d.x) - size / 2 })
    .attr("y", function(d) { return y(P(d.v)) - size / 2 })
    .attr("width", size).attr("height", size)
    .attr("fill", mark)
}

// background scatter
dots(yA1, ca40Fade, "#c3c3fb", cA1, 4)
dots(yA1, o16Fade, "#dcb4dc", cA1, 4)
dots(yA1, s32Fade, "#ffbdbd", cA1, 4)
dots(yA2, si28Fade, "#c6c6fb", cA2, 4)
dots(yA2, al27Fade, "#2be36b", cA2, 3.6)
dots(yA3, mg26Fade, "#e3a8a8", cA3, 4)
dots(yA3, c12Fade, "#2323f0", cA3, 4)

// filament row traces (top)
rowStart.forEach(function(s, r) {
  var locs = d3.range(s, s + 12)
  trace(yA1, locs, ca40Rows[r], "#3535ff", "#2222f2", 1.5, 4, cA1)
  trace(yA1, locs, o16Rows[r], "#8e1a8e", "#801080", 1.5, 4, cA1)
  trace(yA1, locs, s32Rows[r], "#ff5c5c", "#ff3030", 1.5, 4, cA1)
})
trace(yA2, lineLoc, al27Line, "#20ee20", "#1ee61e", 1.6, 4, cA2)
trace(yA2, lineLoc, si28Line, "#2b2bff", "#2020f0", 1.6, 4, cA2)
trace(yA3, lineLoc, c12Line, "#5555ff", "#1c1cff", 1, 4, cA3)
trace(yA3, lineLoc, mg26Line, "#b22424", "#a01818", 1, 4, cA3)

// axes A
var oA = {minor: 4, major: 8, tick: 1.4, axis: 2.2, gap: 15, fs: 21}
yLogAxis(yA1, 104, [3, 4, 5, 6, 7, 8, 9], oA)
yLogAxis(yA2, 104, [3, 4, 5, 6, 7, 8], oA)
yLogAxis(yA3, 104, [3, 4, 5, 6, 7, 8], oA)
var majA = d3.range(0, 451, 50), minA = d3.range(25, 476, 50)
var gx1 = xAxis(xA, 236, majA, minA, d3.format("d"), 20, false)
gx1.selectAll("text").filter(function(d) { return d === 450 }).attr("font-size", 23).attr("dx", 6)
xAxis(xA, 436, majA, minA, d3.format("d"), 20, false)
xAxis(xA, 637, majA, minA, d3.format("d"), 20, false)

svg.append("text").attr("transform", "translate(37,352) rotate(-90)").attr("text-anchor", "middle")
  .attr("font-size", 29).text("Intensity [#e-]")
svg.append("text").attr("x", 452).attr("y", 700).attr("text-anchor", "middle")
  .attr("font-size", 29).text("Location [#]")

// legends A
function legendA(box, items, lx0, lx1, tx, fs) {
  var g = svg.append("g")
  g.append("rect").attr("x", box[0]).attr("y", box[1]).attr("width", box[2] - box[0]).attr("height", box[3] - box[1])
    .attr("fill", "#fff").attr("stroke", "#000").attr("stroke-width", 1.5)
  items.forEach(function(it) {
    if (it.line) g.append("line").attr("x1", lx0).attr("x2", lx1).attr("y1", it.y).attr("y2", it.y)
      .attr("stroke", it.line).attr("stroke-width", it.w)
    g.append("rect").attr("x", (lx0 + lx1) / 2 - 3).attr("y", it.y - 3).attr("width", 6).attr("height", 6).attr("fill", it.mark)
    g.append("text").attr("x", tx).attr("y", it.y).attr("dy", "0.36em").attr("font-size", fs).text(it.name)
  })
}
legendA([775, 46, 892, 213], [
  {name: "Ca40", line: "#3535ff", mark: "#2222f2", w: 2.2, y: 61},
  {name: "O16", line: "#8e1a8e", mark: "#801080", w: 2.2, y: 88},
  {name: "S32", line: "#ff5c5c", mark: "#ff3030", w: 2.2, y: 115},
  {name: "Ca40", mark: "#c3c3fb", y: 143},
  {name: "O16", mark: "#dcb4dc", y: 170},
  {name: "S32", mark: "#ffbdbd", y: 197}
], 781, 832, 837, 20)
legendA([770, 283, 892, 408], [
  {name: "Al27", line: "#20ee20", mark: "#1ee61e", w: 2.4, y: 299},
  {name: "Si28", line: "#2b2bff", mark: "#2020f0", w: 2.4, y: 330},
  {name: "Al27", mark: "#2be36b", y: 362},
  {name: "Si28", mark: "#c6c6fb", y: 393}
], 777, 835, 841, 20)
legendA([774, 503, 892, 613], [
  {name: "C12", line: "#5555ff", mark: "#1c1cff", w: 1.4, y: 517},
  {name: "Mg26", line: "#b22424", mark: "#a01818", w: 1.4, y: 545},
  {name: "C12", mark: "#2323f0", y: 573},
  {name: "Mg26", mark: "#e3a8a8", y: 601}
], 778, 830, 836, 19)

// ================= PANEL B =================
svg.append("rect").attr("x", 64).attr("y", 771).attr("width", 39).attr("height", 35)
  .attr("fill", "none").attr("stroke", "#000").attr("stroke-width", 2)
svg.append("text").attr("x", 83.5).attr("y", 801).attr("text-anchor", "middle")
  .attr("font-size", 32).text("B")
svg.append("text").attr("x", 336).attr("y", 816).attr("text-anchor", "middle")
  .attr("font-size", 21).text("Fossil Filament Location")
svg.append("path").attr("d", "M" + xB(91) + ",838V823H" + xB(97) + "V838")
  .attr("fill", "none").attr("stroke", "#555").attr("stroke-width", 1.3)

var sym = {
  sq: {type: d3.symbolSquare, size: 80, rot: 0},
  ci: {type: d3.symbolCircle, size: 75, rot: 0},
  up: {type: d3.symbolTriangle, size: 75, rot: 0},
  dn: {type: d3.symbolTriangle, size: 75, rot: 180},
  lt: {type: d3.symbolTriangle, size: 75, rot: -90},
  di: {type: d3.symbolSquare, size: 55, rot: 45},
  sm: {type: d3.symbolSquare, size: 64, rot: 0}
}
function marker(g, x, y, s, fill) {
  g.append("path")
    .attr("transform", "translate(" + x + "," + y + ") rotate(" + s.rot + ")")
    .attr("d", d3.symbol(s.type, s.size)())
    .attr("fill", fill)
}

function traceB(y, vals, st) {
  var g = svg.append("g")
  g.append("path").datum(vals)
    .attr("d", d3.line().x(function(d, i) { return xB(locB[i]) }).y(function(d) { return y(P(d)) }))
    .attr("fill", "none").attr("stroke", st.line).attr("stroke-width", 2)
  vals.forEach(function(v, i) {
    var s = st.shapeAt ? st.shapeAt(i) : {s: sym[st.shape], c: st.fill}
    marker(g, xB(locB[i]), y(P(v)), s.s, s.c)
  })
}

function background(y, v, tx, ty) {
  svg.append("line").attr("x1", xB(91)).attr("x2", xB(102)).attr("y1", y(P(v))).attr("y2", y(P(v)))
    .attr("stroke", "#000").attr("stroke-width", 4).attr("stroke-dasharray", "24,13")
  svg.append("text").attr("x", tx).attr("y", ty).attr("font-size", 19).text("Background Signal Level")
}

function legendB(box, names, styles, ys, lx0, lx1, tx) {
  var g = svg.append("g")
  g.append("rect").attr("x", box[0]).attr("y", box[1]).attr("width", box[2] - box[0]).attr("height", box[3] - box[1])
    .attr("fill", "#fff").attr("stroke", "#000").attr("stroke-width", 1.6)
  names.forEach(function(n, i) {
    var st = styles[i]
    g.append("line").attr("x1", lx0).attr("x2", lx1).attr("y1", ys[i]).attr("y2", ys[i])
      .attr("stroke", st.line).attr("stroke-width", 2.5)
    var s = st.legend || {s: sym[st.shape], c: st.fill}
    marker(g, (lx0 + lx1) / 2, ys[i], s.s, s.c)
    g.append("text").attr("x", tx).attr("y", ys[i]).attr("dy", "0.36em").attr("font-size", 20).text(n)
  })
}

var b1Styles = [
  {line: "#6272d2", fill: "#1b2b9b", shape: "sq"},
  {line: "#ff4d4d", fill: "#1b2b9b", shape: "ci"},
  {line: "#a3a12a", fill: "#ff0000", shape: "up"},
  {line: "#ff44ff", fill: "#ff0000", shape: "dn"},
  {line: "#454545", fill: "#7f7f00", shape: "lt"},
  {line: "#1f9e50", shapeAt: function(i) { return locB[i] >= 100 ? {s: sym.di, c: "#ff00ff"} : {s: sym.lt, c: "#7f7f00"} },
    legend: {s: sym.di, c: "#ff00ff"}}
]
var b2Colors = ["#a39a12", "#109090", "#000000", "#ff2020", "#22ee22", "#2020ff", "#ffff00"]
var b3Colors = ["#2020ff", "#ff33ff", "#ffff22", "#ff2020", "#22ee22"]
var b4Colors = ["#22ee22", "#2020ff", "#ff33ff"]
function sqStyles(cols) { return cols.map(function(c) { return {line: c, fill: c, shape: "sm"} }) }
var b2Styles = sqStyles(b2Colors), b3Styles = sqStyles(b3Colors), b4Styles = sqStyles(b4Colors)

background(yB1, bgB[0], 222, 937)
background(yB2, bgB[1], 228, 1110)
background(yB3, bgB[2], 231, 1270)
background(yB4, bgB[3], 235, 1430)

b1Vals.forEach(function(v, i) { traceB(yB1, v, b1Styles[i]) })
b2Vals.forEach(function(v, i) { traceB(yB2, v, b2Styles[i]) })
b3Vals.forEach(function(v, i) { traceB(yB3, v, b3Styles[i]) })
b4Vals.forEach(function(v, i) { traceB(yB4, v, b4Styles[i]) })

var oB = {minor: 5, major: 8, tick: 1.8, axis: 3, gap: 12, fs: 22}
yLogAxis(yB1, 104, [1, 3, 5, 7, 9], oB)
yLogAxis(yB2, 104, [3, 5, 7], oB)
yLogAxis(yB3, 104, [4, 5], oB)
yLogAxis(yB4, 104, [2, 4, 6], oB)

var evenFmt = function(d) { return d % 2 === 0 ? d : "" }
xAxis(xB, 952, [90, 95, 100], [92.5, 97.5, 102.5, 103], d3.format("d"), 22, true)
xAxis(xB, 1115, d3.range(90, 104), [], evenFmt, 22, true)
xAxis(xB, 1278, d3.range(90, 104), [], evenFmt, 22, true)
xAxis(xB, 1442, d3.range(90, 104), [], evenFmt, 22, true)

legendB([806, 771, 900, 926], b1Names, b1Styles, [786, 810, 834, 858, 882, 906], 811, 849, 853)
legendB([809, 957, 900, 1107], b2Names, b2Styles, [967, 988, 1009, 1031, 1052, 1074, 1095], 813, 850, 853)
legendB([809, 1142, 900, 1267], b3Names, b3Styles, [1157, 1181, 1205, 1229, 1253], 813, 850, 853)
legendB([785, 1345, 891, 1419], b4Names, b4Styles, [1358, 1383, 1408], 791, 836, 842)

svg.append("text").attr("transform", "translate(37,1132) rotate(-90)").attr("text-anchor", "middle")
  .attr("font-size", 34).text("Intensity [#e-]")
svg.append("text").attr("x", 468).attr("y", 1518).attr("text-anchor", "middle")
  .attr("font-size", 27).text("Location [#]")
</script>
</body>
</html>
